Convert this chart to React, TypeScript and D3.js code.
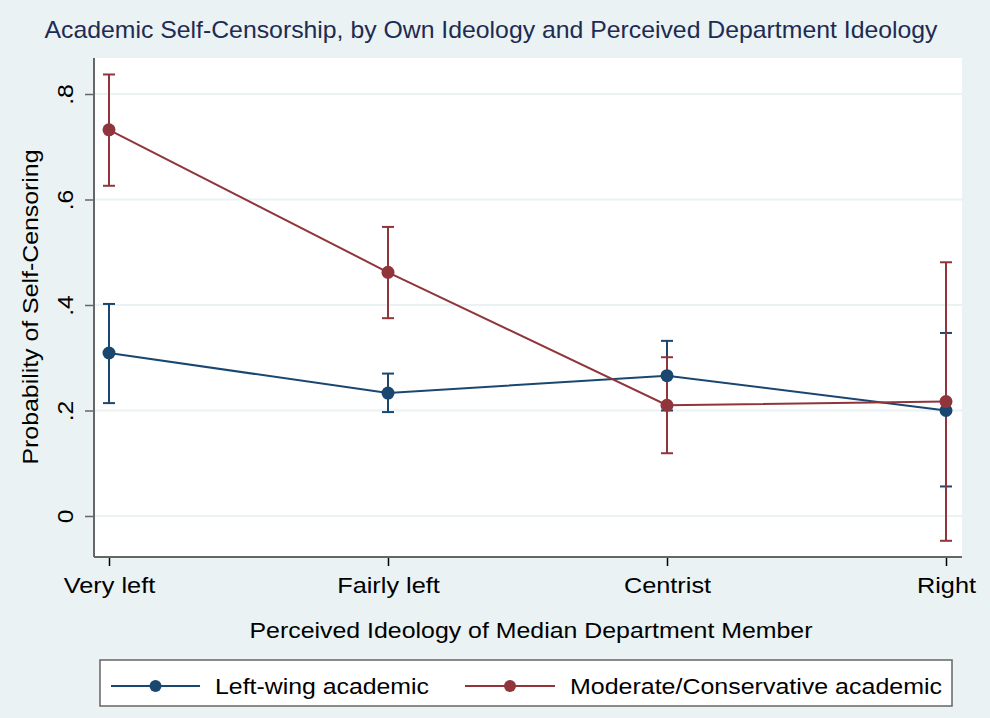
import React, { useEffect, useRef } from "react";
import * as d3 from "d3";

const categories = ["Very left", "Fairly left", "Centrist", "Right"];
const yTicks = [0, 0.2, 0.4, 0.6, 0.8];
const yTickLabels = ["0", ".2", ".4", ".6", ".8"];

const leftEst = [0.309, 0.233, 0.266, 0.2];
const leftLo = [0.214, 0.197, 0.2, 0.056];
const leftHi = [0.402, 0.27, 0.332, 0.347];

const modEst = [0.732, 0.462, 0.21, 0.217];
const modLo = [0.626, 0.375, 0.119, -0.047];
const modHi = [0.837, 0.548, 0.301, 0.481];

const seriesNames = ["Left-wing academic", "Moderate/Conservative academic"];
const colors = ["#1a476f", "#90353b"];

const W = 990;
const H = 718;

// stretch text horizontally (Stata renders a bit wider than Arial)
function widen(sel: d3.Selection<any, any, any, any>, factor: number) {
  sel.each(function () {
    const el = this as SVGTextElement;
    const len = el.getComputedTextLength();
    el.setAttribute("textLength", String(len * factor));
    el.setAttribute("lengthAdjust", "spacingAndGlyphs");
  });
}

export default function App() {
  const svgRef = useRef<SVGSVGElement>(null);

  useEffect(() => {
    if (!svgRef.current) return;
    const svg = d3.select(svgRef.current);
    svg.selectAll("*").remove();

    const font = "'Liberation Sans', Arial, sans-serif";
    const plot = { left: 94, right: 962, top: 58, bottom: 557 };

    svg.append("rect").attr("width", W).attr("height", H).attr("fill", "#eaf2f3");
    svg
      .append("rect")
      .attr("x", plot.left)
      .attr("y", plot.top)
      .attr("width", plot.right - plot.left)
      .attr("height", plot.bottom - plot.top)
      .attr("fill", "#ffffff");

    const x = d3.scalePoint<string>().domain(categories).range([109, 946]);
    const y = d3.scaleLinear().domain([0, 0.8]).range([516, 94]);

    // gridlines
    svg
      .append("g")
      .selectAll("line")
      .data(yTicks)
      .enter()
      .append("line")
      .attr("x1", plot.left)
      .attr("x2", plot.right)
      .attr("y1", (d) => y(d))
      .attr("y2", (d) => y(d))
      .attr("stroke", "#eaf2f3")
      .attr("stroke-width", 2);

    // axes
    const yAxis = svg
      .append("g")
      .attr("transform", `translate(${plot.left},0)`)
      .call(
        d3
          .axisLeft(y)
          .tickValues(yTicks)
          .tickSize(9)
          .tickFormat((_, i) => yTickLabels[i])
      );
    yAxis.select(".domain").remove();
    yAxis.selectAll(".tick line").attr("stroke", "#666666").attr("stroke-width", 1.5);
    const yt = yAxis
      .selectAll(".tick text")
      .attr("font-family", font)
      .attr("font-size", 22)
      .attr("fill", "#000")
      .attr("x", 0)
      .attr("dy", 0)
      .attr("text-anchor", "middle")
      .attr("transform", "translate(-21,0) rotate(-90)");
    widen(yt, 1.12);

    svg
      .append("line")
      .attr("x1", plot.left)
      .attr("x2", plot.left)
      .attr("y1", plot.top)
      .attr("y2", plot.bottom)
      .attr("stroke", "#666666")
      .attr("stroke-width", 2);

    const xAxis = svg
      .append("g")
      .attr("transform", `translate(0,${plot.bottom})`)
      .call(d3.axisBottom(x).tickSize(9).tickPadding(11));
    xAxis.select(".domain").remove();
    xAxis.selectAll(".tick line").attr("stroke", "#000").attr("stroke-width", 1.5);
    const xt = xAxis
      .selectAll(".tick text")
      .attr("font-family", font)
      .attr("font-size", 22)
      .attr("fill", "#000");
    widen(xt, 1.15);

    svg
      .append("line")
      .attr("x1", plot.left)
      .attr("x2", plot.right)
      .attr("y1", plot.bottom)
      .attr("y2", plot.bottom)
      .attr("stroke", "#666666")
      .attr("stroke-width", 2);

    // titles
    svg
      .append("text")
      .attr("x", 491)
      .attr("y", 38)
      .attr("text-anchor", "middle")
      .attr("font-family", font)
      .attr("font-size", 24)
      .attr("fill", "#1e2b52")
      .attr("textLength", 893)
      .attr("lengthAdjust", "spacingAndGlyphs")
      .text("Academic Self-Censorship, by Own Ideology and Perceived Department Ideology");

    svg
      .append("text")
      .attr("x", 531)
      .attr("y", 638)
      .attr("text-anchor", "middle")
      .attr("font-family", font)
      .attr("font-size", 22)
      .attr("fill", "#000")
      .attr("textLength", 563)
      .attr("lengthAdjust", "spacingAndGlyphs")
      .text("Perceived Ideology of Median Department Member");

    svg
      .append("text")
      .attr("transform", `translate(38,307) rotate(-90)`)
      .attr("text-anchor", "middle")
      .attr("font-family", font)
      .attr("font-size", 22)
      .attr("fill", "#000")
      .attr("textLength", 315)
      .attr("lengthAdjust", "spacingAndGlyphs")
      .text("Probability of Self-Censoring");

    const series = [
      { est: leftEst, lo: leftLo, hi: leftHi, color: colors[0] },
      { est: modEst, lo: modLo, hi: modHi, color: colors[1] },
    ];

    // confidence intervals
    series.forEach((s) => {
      const g = svg.append("g");
      categories.forEach((c, i) => {
        const cx = x(c) as number;
        g.append("line")
          .attr("x1", cx)
          .attr("x2", cx)
          .attr("y1", y(s.lo[i]))
          .attr("y2", y(s.hi[i]))
          .attr("stroke", s.color)
          .attr("stroke-width", 2);
        [s.lo[i], s.hi[i]].forEach((v) => {
          g.append("line")
            .attr("x1", cx - 6)
            .attr("x2", cx + 6)
            .attr("y1", y(v))
            .attr("y2", y(v))
            .attr("stroke", s.color)
            .attr("stroke-width", 2);
        });
      });
    });

    // lines and markers
    const line = d3
      .line<number>()
      .x((_, i) => x(categories[i]) as number)
      .y((d) => y(d));

    series.forEach((s) => {
      svg
        .append("path")
        .attr("d", line(s.est))
        .attr("fill", "none")
        .attr("stroke", s.color)
        .attr("stroke-width", 2);
      svg
        .append("g")
        .selectAll("circle")
        .data(s.est)
        .enter()
        .append("circle")
        .attr("cx", (_, i) => x(categories[i]) as number)
        .attr("cy", (d) => y(d))
        .attr("r", 6.5)
        .attr("fill", s.color);
    });

    // legend
    const lg = svg.append("g");
    lg.append("rect")
      .attr("x", 100)
      .attr("y", 660)
      .attr("width", 852)
      .attr("height", 46)
      .attr("fill", "#fff")
      .attr("stroke", "#666666")
      .attr("stroke-width", 1.5);
    const legendPos = [
      { x0: 111, x1: 200, tx: 215, tw: 214 },
      { x0: 465, x1: 555, tx: 570, tw: 372 },
    ];
    seriesNames.forEach((name, i) => {
      const p = legendPos[i];
      lg.append("line")
        .attr("x1", p.x0)
        .attr("x2", p.x1)
        .attr("y1", 686)
        .attr("y2", 686)
        .attr("stroke", colors[i])
        .attr("stroke-width", 2);
      lg.append("circle")
        .attr("cx", (p.x0 + p.x1) / 2)
        .attr("cy", 686)
        .attr("r", 6)
        .attr("fill", colors[i]);
      lg.append("text")
        .attr("x", p.tx)
        .attr("y", 694)
        .attr("font-family", font)
        .attr("font-size", 22)
        .attr("fill", "#000")
        .attr("textLength", p.tw)
        .attr("lengthAdjust", "spacingAndGlyphs")
        .text(name);
    });
  }, []);

  return (
    <svg
      ref={svgRef}
      width={W}
      height={H}
      style={{ position: "absolute", left: 0, top: 0, display: "block" }}
    />
  );
}
